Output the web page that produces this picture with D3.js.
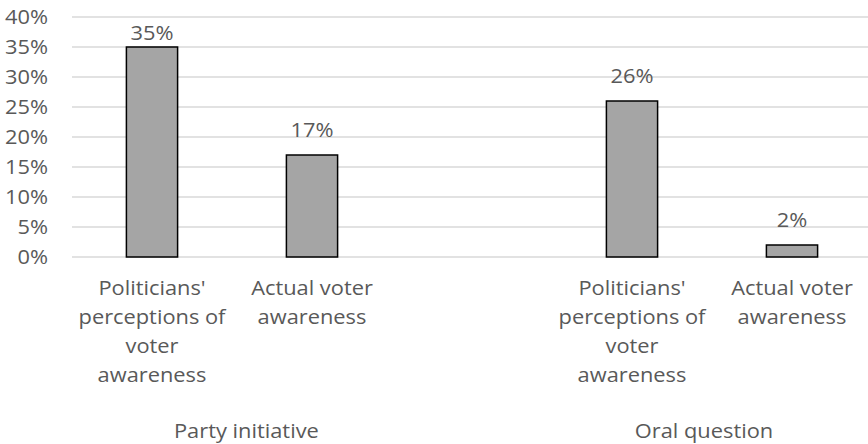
<!DOCTYPE html>
<html>
<head>
<meta charset="utf-8">
<script src="https://cdn.jsdelivr.net/npm/d3@7"></script>
<style>
  html, body { margin: 0; padding: 0; background: #fff; }
  svg { display: block; }
  text { font-family: "Open Sans", sans-serif; fill: #595959; }
</style>
</head>
<body>
<svg id="chart" width="868" height="444"></svg>
<script>
// ---- data ----
const categories = [
  "Politicians' perceptions of voter awareness",
  "Actual voter awareness",
  "",
  "Politicians' perceptions of voter awareness",
  "Actual voter awareness"
];
const categoryLines = [
  ["Politicians'", "perceptions of", "voter", "awareness"],
  ["Actual voter", "awareness"],
  [],
  ["Politicians'", "perceptions of", "voter", "awareness"],
  ["Actual voter", "awareness"]
];
const values = [35, 17, null, 26, 2];
const groups = ["Party initiative", "Oral question"];
const yTicks = [0, 5, 10, 15, 20, 25, 30, 35, 40];

// ---- layout ----
const svg = d3.select("#chart");
const plotLeft = 72, plotRight = 872, plotTop = 17, plotBottom = 257;
const fontSize = 19.5;
const sx = 1.12; // horizontal text stretch to match the reference rendering

const x = d3.scaleBand().domain(d3.range(categories.length)).range([plotLeft, plotRight]).paddingInner(0.68).paddingOuter(0.34);
const y = d3.scaleLinear().domain([0, 40]).range([plotBottom, plotTop]);

function label(parent, px, py, str, anchor) {
  return parent.append("text")
    .attr("transform", `translate(${px},${py}) scale(${sx},1)`)
    .attr("text-anchor", anchor || "middle")
    .attr("font-size", fontSize)
    .text(str);
}

// gridlines
svg.append("g").selectAll("line").data(yTicks).join("line")
  .attr("x1", plotLeft).attr("x2", plotRight)
  .attr("y1", d => y(d)).attr("y2", d => y(d))
  .attr("stroke", "#d9d9d9").attr("stroke-width", 1.5);

// y axis labels
const yAxis = d3.axisLeft(y).tickValues(yTicks).tickFormat(d => d + "%").tickSize(0).tickPadding(0);
const ya = svg.append("g").attr("transform", `translate(48,0)`).call(yAxis);
ya.select(".domain").remove();
ya.selectAll("text")
  .attr("font-size", fontSize).attr("font-family", "Open Sans").attr("fill", "#595959")
  .attr("dy", "0.34em").attr("transform", `scale(${sx},1)`);

// bars
const barData = values.map((v, i) => ({ v, i })).filter(d => d.v !== null);
svg.append("g").selectAll("rect").data(barData).join("rect")
  .attr("x", d => x(d.i))
  .attr("width", x.bandwidth())
  .attr("y", d => y(d.v))
  .attr("height", d => y(0) - y(d.v))
  .attr("fill", "#a5a5a5")
  .attr("stroke", "#000").attr("stroke-width", 1.5);

// value labels
const valG = svg.append("g");
barData.forEach(d => {
  label(valG, x(d.i) + x.bandwidth() / 2, Math.max(y(d.v) - 18, plotTop + 23), d.v + "%");
});

// category labels
const catG = svg.append("g");
categoryLines.forEach((lines, i) => {
  const cx = x(i) + x.bandwidth() / 2;
  lines.forEach((ln, j) => label(catG, cx, 295 + j * 29, ln));
});

// group labels
const step = x.step();
const groupSlots = [1.09, 3.95];
const grpG = svg.append("g");
groups.forEach((g, i) => label(grpG, plotLeft + groupSlots[i] * step, 438, g));
</script>
</body>
</html>
